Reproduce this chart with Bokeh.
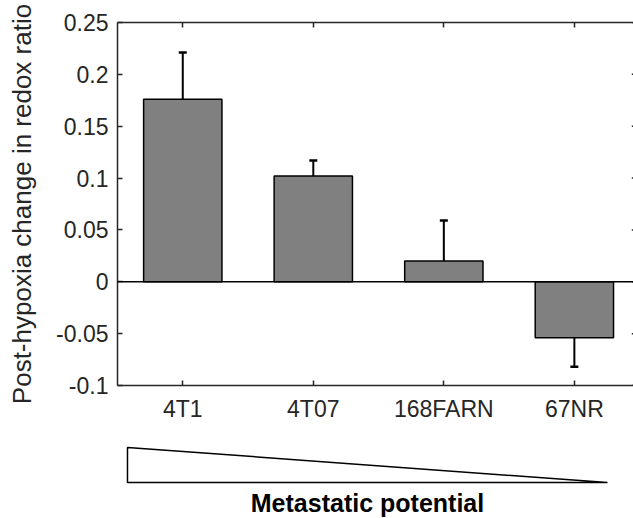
from bokeh.plotting import figure
from bokeh.models import Range1d, FixedTicker, LinearAxis, Span
from bokeh.layouts import column
from bokeh.embed import file_html
from bokeh.resources import INLINE
from bokeh.core.properties import value

# ---- data ----
categories = ["4T1", "4T07", "168FARN", "67NR"]
redox_change = [0.176, 0.102, 0.020, -0.054]
redox_error = [0.045, 0.015, 0.039, 0.028]
y_ticks = [-0.1, -0.05, 0, 0.05, 0.1, 0.15, 0.2, 0.25]
y_tick_labels = ["-0.1", "-0.05", "0", "0.05", "0.1", "0.15", "0.2", "0.25"]
potential_x = [0, 0, 1]      # wedge: high -> low metastatic potential
potential_y = [1, 0, 0]
x_label = "Metastatic potential"
y_label = "Post-hypoxia change in redox ratio"

FONT = "Liberation Sans"
AX = "#262626"

positions = list(range(1, len(categories) + 1))
err_end = [v + (e if v >= 0 else -e) for v, e in zip(redox_change, redox_error)]
x_full_end = 0.5 + len(categories)

p = figure(width=633, height=438, output_backend="svg", toolbar_location=None,
           x_range=Range1d(0.5, 4.453), y_range=Range1d(-0.1, 0.25),
           min_border_left=117, min_border_top=22, min_border_right=0,
           min_border_bottom=53)
p.xgrid.visible = False
p.ygrid.visible = False
p.outline_line_color = None

# bottom axis
p.xaxis.ticker = FixedTicker(ticks=positions)
p.xaxis.major_label_overrides = {x: c for x, c in zip(positions, categories)}
p.xaxis.major_label_text_font = FONT
p.xaxis.major_label_text_font_size = "23px"
p.xaxis.major_label_text_color = AX
p.xaxis.major_label_standoff = 10
p.xaxis.major_tick_in = 5
p.xaxis.major_tick_out = 0
p.xaxis.minor_tick_line_color = None
p.xaxis.axis_line_color = AX
p.xaxis.axis_line_width = 1.5
p.xaxis.major_tick_line_color = AX
p.xaxis.major_tick_line_width = 1.5

# left axis
p.yaxis.ticker = FixedTicker(ticks=y_ticks)
p.yaxis.major_label_overrides = {t: l for t, l in zip(y_ticks, y_tick_labels)}
p.yaxis.major_label_text_font = FONT
p.yaxis.major_label_text_font_size = "23px"
p.yaxis.major_label_text_color = AX
p.yaxis.major_label_standoff = 9
p.yaxis.major_tick_in = 5
p.yaxis.major_tick_out = 0
p.yaxis.minor_tick_line_color = None
p.yaxis.axis_line_color = AX
p.yaxis.axis_line_width = 1.5
p.yaxis.major_tick_line_color = AX
p.yaxis.major_tick_line_width = 1.5
p.yaxis.axis_label = y_label
p.yaxis.axis_label_text_font = FONT
p.yaxis.axis_label_text_font_size = "26px"
p.yaxis.axis_label_text_font_style = "normal"
p.yaxis.axis_label_text_color = AX
p.yaxis.axis_label_standoff = 16

# top axis (box edge with inward ticks)
top = LinearAxis(ticker=FixedTicker(ticks=positions),
                 major_label_overrides={x: "" for x in positions},
                 major_label_text_font_size="0px", major_label_standoff=0,
                 major_tick_in=5, major_tick_out=0,
                 minor_tick_line_color=None,
                 axis_line_color=AX, axis_line_width=1.5,
                 major_tick_line_color=AX, major_tick_line_width=1.5)
p.add_layout(top, "above")

# right-edge ticks (box edge lies just beyond the visible area)
p.segment(x0=[x_full_end - 0.06] * len(y_ticks), y0=y_ticks,
          x1=[x_full_end] * len(y_ticks), y1=y_ticks,
          line_color=AX, line_width=1.5)

# bars
p.vbar(x=positions, top=redox_change, bottom=0, width=0.6,
       fill_color="#808080", line_color="black", line_width=1.5)
# one-sided error bars
p.segment(x0=positions, y0=redox_change, x1=positions, y1=err_end,
          line_color="black", line_width=2)
p.scatter(positions, err_end, marker="dash", size=8,
          line_color="black", line_width=2.5)

p.add_layout(Span(location=0, dimension="width", line_color="black",
                  line_width=1.5))

# ---- metastatic potential wedge (frame aligned with the chart frame) ----
p2 = figure(width=633, height=80, output_backend="svg", toolbar_location=None,
            x_range=Range1d(-0.0208, 1.0542), y_range=Range1d(-1.0286, 1.257),
            x_axis_location=None, y_axis_location=None, min_border=0)
p2.xgrid.visible = False
p2.ygrid.visible = False
p2.outline_line_color = None
p2.patch(potential_x, potential_y, fill_color="white", line_color="black",
         line_width=1.5)
span_x = max(potential_x) - min(potential_x)
span_y = max(potential_y) - min(potential_y)
p2.text(x=[min(potential_x) + span_x / 2], y=[min(potential_y) - 0.6 * span_y],
        text=[x_label], text_font=value(FONT), text_font_style="bold",
        text_font_size="25px", text_align="center", text_baseline="middle",
        text_color="black")

layout = column(p, p2, spacing=0)
open("out.html", "w").write(file_html(layout, INLINE))
